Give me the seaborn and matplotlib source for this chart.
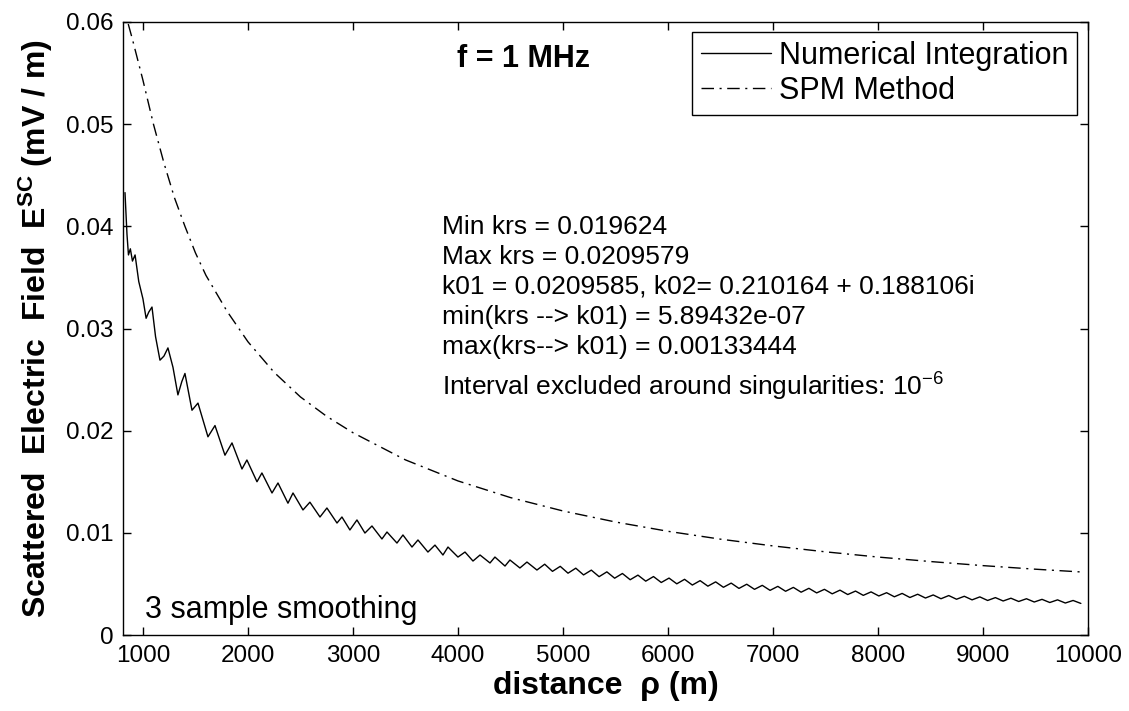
import numpy as np
import pandas as pd
import matplotlib
matplotlib.use("Agg")
import matplotlib.pyplot as plt
import seaborn as sns

# ---------------- data ----------------
ni_x = [829, 838, 848, 862, 880, 900, 925, 960, 1000, 1030, 1055, 1086, 1120, 1162,
        1200, 1238, 1286, 1333, 1370, 1400, 1467, 1524, 1619, 1686, 1781, 1848, 1943,
        1990, 2086, 2133, 2229, 2286, 2381, 2429, 2524, 2590, 2686, 2752, 2848, 2895,
        2971, 3038, 3114, 3181, 3276, 3324, 3419, 3476, 3562, 3619, 3714, 3781, 3857,
        3905, 4000, 4067, 4143, 4210, 4305, 4352, 4448, 4495, 4590, 4657, 4752,
        4826, 4900, 4974, 5048, 5122, 5196, 5270, 5344, 5418, 5492, 5566, 5640, 5714,
        5788, 5862, 5936, 6010, 6084, 6158, 6232, 6306, 6380, 6454, 6528, 6602, 6676,
        6750, 6824, 6898, 6972, 7046, 7120, 7194, 7268, 7342, 7416, 7490, 7564, 7638,
        7712, 7786, 7860, 7934, 8008, 8082, 8156, 8230, 8304, 8378, 8452, 8526, 8600,
        8674, 8748, 8822, 8896, 8970, 9044, 9118, 9192, 9266, 9340, 9414, 9488, 9562,
        9636, 9710, 9784, 9858, 9932]
ni_y = [0.0433, 0.0413, 0.0392, 0.0372, 0.0378, 0.0366, 0.0372, 0.0346, 0.0329, 0.0310,
        0.0316, 0.0321, 0.0292, 0.0269, 0.0273, 0.0281, 0.0262, 0.0235, 0.0248, 0.0256,
        0.0220, 0.0227, 0.0194, 0.0205, 0.0176, 0.0188, 0.01625, 0.01713, 0.0150, 0.01586,
        0.0139, 0.01488, 0.0129, 0.0139, 0.01224, 0.0130, 0.01155, 0.01243, 0.01096,
        0.01155, 0.01028, 0.01126, 0.00998, 0.01067, 0.0094, 0.01008, 0.0090, 0.00979,
        0.00861, 0.0093, 0.00812, 0.0088, 0.00783, 0.00861, 0.00763, 0.00812, 0.00724,
        0.00783, 0.00705, 0.00763, 0.00675, 0.00734, 0.00656, 0.00714, 0.00636,
        0.00693, 0.00623, 0.00672, 0.00605, 0.00654, 0.00588, 0.00635, 0.00571, 0.00618,
        0.00556, 0.00602, 0.00541, 0.00586, 0.00527, 0.00572, 0.00514, 0.00557, 0.00501,
        0.00545, 0.00489, 0.00532, 0.00478, 0.00520, 0.00467, 0.00508, 0.00456, 0.00497,
        0.00447, 0.00486, 0.00437, 0.00476, 0.00428, 0.00466, 0.00419, 0.00457, 0.00412,
        0.00447, 0.00403, 0.00439, 0.00396, 0.00430, 0.00388, 0.00422, 0.00382, 0.00414,
        0.00374, 0.00407, 0.00367, 0.00399, 0.00362, 0.00392, 0.00355, 0.00386, 0.00350,
        0.00379, 0.00344, 0.00373, 0.00338, 0.00366, 0.00333, 0.00360, 0.00328, 0.00355,
        0.00323, 0.00349, 0.00318, 0.00344, 0.00313, 0.00338, 0.00309]

spm_x = [860, 900, 1000, 1100, 1200, 1300, 1400, 1500, 1600, 1800, 2000, 2250, 2500,
         2750, 3000, 3500, 4000, 4500, 5000, 5500, 6000, 6500, 7000, 7500, 8000, 8500,
         9000, 9500, 9950]
spm_y = [0.0598, 0.0583, 0.0543, 0.0500, 0.0462, 0.0428, 0.0400, 0.0374, 0.0352,
         0.0317, 0.0287, 0.0257, 0.0233, 0.0214, 0.0198, 0.01714, 0.01508, 0.01345,
         0.01214, 0.01106, 0.01015, 0.00938, 0.00872, 0.00814, 0.00763, 0.00719,
         0.00679, 0.00644, 0.00616]

series_names = ["Numerical Integration", "SPM Method"]
x_ticks = [1000, 2000, 3000, 4000, 5000, 6000, 7000, 8000, 9000, 10000]
x_tick_labels = ["1000", "2000", "3000", "4000", "5000", "6000", "7000", "8000", "9000", "10000"]
y_ticks = [0, 0.01, 0.02, 0.03, 0.04, 0.05, 0.06]
y_tick_labels = ["0", "0.01", "0.02", "0.03", "0.04", "0.05", "0.06"]
annotation_lines = ["Min krs = 0.019624",
                    "Max krs = 0.0209579",
                    "k01 = 0.0209585, k02= 0.210164 + 0.188106i",
                    "min(krs --> k01) = 5.89432e-07",
                    "max(krs--> k01) = 0.00133444"]
interval_text = "Interval excluded around singularities: 10$^{-6}$"

# ---------------- style ----------------
sns.set_theme(style="ticks")
plt.rcParams['font.family'] = ['Liberation Sans', 'DejaVu Sans']
plt.rcParams['mathtext.fontset'] = 'custom'
plt.rcParams['mathtext.rm'] = 'Liberation Sans'
plt.rcParams['mathtext.it'] = 'Liberation Sans:italic'
plt.rcParams['mathtext.bf'] = 'Liberation Sans:bold'
plt.rcParams['axes.edgecolor'] = 'black'
plt.rcParams['axes.linewidth'] = 1.0
plt.rcParams['text.color'] = 'black'
plt.rcParams['axes.labelcolor'] = 'black'
plt.rcParams['xtick.color'] = 'black'
plt.rcParams['ytick.color'] = 'black'

fig = plt.figure(figsize=(11.29, 7.11), dpi=100)
ax = fig.add_axes([123 / 1129, 1 - 635 / 711, 965 / 1129, 613 / 711])

df_ni = pd.DataFrame({"distance": ni_x, "field": ni_y})
df_spm = pd.DataFrame({"distance": spm_x, "field": spm_y})

sns.lineplot(data=df_ni, x="distance", y="field", color="black", linewidth=1.0,
             estimator=None, ax=ax, label=series_names[0])
sns.lineplot(data=df_spm, x="distance", y="field", color="black", linewidth=1.0,
             linestyle=(0, (9, 4, 1.5, 4)), estimator=None, ax=ax, label=series_names[1])

ax.set_xlim(810, 10000)
ax.set_ylim(0, 0.06)
ax.set_xticks(x_ticks)
ax.set_xticklabels(x_tick_labels)
ax.set_yticks(y_ticks)
ax.set_yticklabels(y_tick_labels)
ax.tick_params(direction='in', length=6, width=1, top=True, right=True,
               labelsize=17.5, colors='black', pad=7)
for s in ax.spines.values():
    s.set_visible(True)
    s.set_color('black')
    s.set_linewidth(1.0)

ax.set_xlabel("distance  \u03c1 (m)", fontsize=23, fontweight='bold', labelpad=3)
ax.set_ylabel("Scattered  Electric  Field  E$^{\\mathregular{SC}}$ (mV / m)",
              fontsize=23, fontweight='bold', labelpad=8)

leg = ax.legend(loc='upper right', bbox_to_anchor=(0.9886, 0.9837), borderaxespad=0,
                fancybox=False, edgecolor='black', framealpha=1, fontsize=22,
                handlelength=2.3, handletextpad=0.26, borderpad=0.28, labelspacing=0.18)
leg.get_frame().set_linewidth(1.0)

# annotations
ax.text(0.3461, 0.9266, "f = 1 MHz", transform=ax.transAxes, fontsize=22,
        fontweight='bold', va='baseline', ha='left')
baselines = [0.6542, 0.6052, 0.5563, 0.5073, 0.4584]
for yb, line in zip(baselines, annotation_lines):
    ax.text(0.3306, yb, line, transform=ax.transAxes, fontsize=19, va='baseline', ha='left')
ax.text(0.3306, 0.3899, interval_text, transform=ax.transAxes, fontsize=19,
        va='baseline', ha='left')
ax.text(0.0228, 0.0277, "3 sample smoothing", transform=ax.transAxes, fontsize=22,
        va='baseline', ha='left')

fig.savefig("out.png", dpi=100, facecolor='white')
